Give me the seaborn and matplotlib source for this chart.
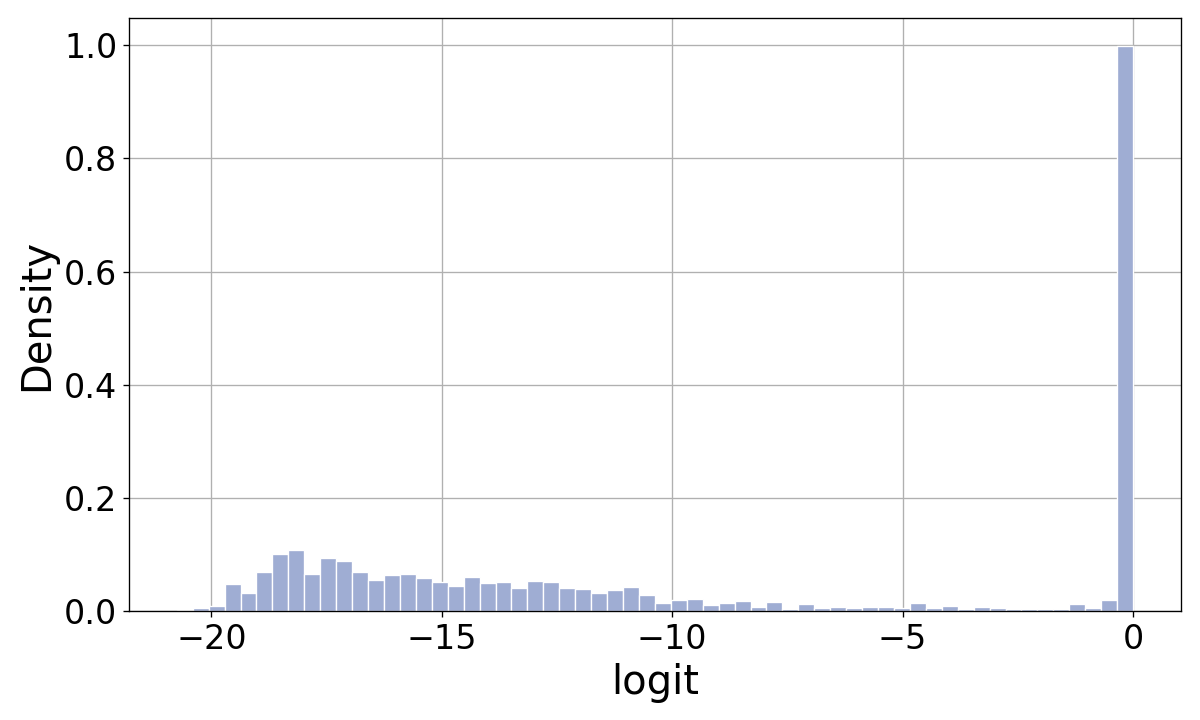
import numpy as np
import pandas as pd
import matplotlib
matplotlib.use("Agg")
import matplotlib.pyplot as plt
import seaborn as sns

# Histogram of logits (density per bin)
logit_min = -20.75
logit_max = 0.0
n_bins = 60
density = [
    0.002, 0.005, 0.010, 0.048, 0.032, 0.069, 0.101, 0.109, 0.066, 0.094,
    0.089, 0.069, 0.055, 0.064, 0.066, 0.059, 0.052, 0.045, 0.060, 0.050,
    0.052, 0.041, 0.053, 0.052, 0.041, 0.039, 0.032, 0.037, 0.043, 0.029,
    0.014, 0.020, 0.022, 0.011, 0.014, 0.018, 0.007, 0.016, 0.004, 0.013,
    0.006, 0.007, 0.006, 0.007, 0.007, 0.006, 0.014, 0.006, 0.009, 0.004,
    0.007, 0.006, 0.004, 0.004, 0.004, 0.004, 0.013, 0.006, 0.020, 0.998,
]

edges = np.linspace(logit_min, logit_max, n_bins + 1)
df = pd.DataFrame({
    "logit": (edges[:-1] + edges[1:]) / 2,
    "density": density,
})

fig, ax = plt.subplots(figsize=(10, 6), dpi=120)
fig.subplots_adjust(left=0.1075, right=0.984, top=0.975, bottom=0.151)

# weights carry the per-bin density, so each bin gets its own height
sns.histplot(data=df, x="logit", weights="density", bins=n_bins,
             binrange=(logit_min, logit_max), stat="count",
             color="#9FADD3", alpha=1.0, edgecolor="white", linewidth=0.8, ax=ax)

ax.grid(True, color="#b0b0b0", linewidth=0.8)
ax.set_axisbelow(True)
ax.set_xlabel("logit", fontsize=24)
ax.set_ylabel("Density", fontsize=24)
ax.tick_params(labelsize=20)

fig.savefig("out.png", dpi=120)
